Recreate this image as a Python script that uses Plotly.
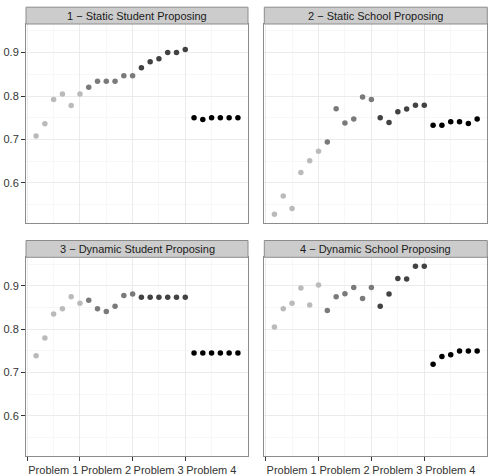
import plotly.graph_objects as go

periods = list(range(1, 25))
problems = ["Problem 1", "Problem 2", "Problem 3", "Problem 4"]
problem_colors = ["#bababa", "#7a7a7a", "#424242", "#000000"]
panel_titles = [
    "1 \u2212 Static Student Proposing",
    "2 \u2212 Static School Proposing",
    "3 \u2212 Dynamic Student Proposing",
    "4 \u2212 Dynamic School Proposing",
]

static_student = [0.708, 0.736, 0.792, 0.805, 0.778, 0.805,
                  0.820, 0.834, 0.834, 0.834, 0.847, 0.847,
                  0.865, 0.879, 0.886, 0.900, 0.900, 0.907,
                  0.750, 0.746, 0.750, 0.750, 0.750, 0.750]
static_school = [0.528, 0.570, 0.541, 0.624, 0.651, 0.673,
                 0.694, 0.771, 0.738, 0.747, 0.798, 0.792,
                 0.750, 0.739, 0.764, 0.770, 0.779, 0.779,
                 0.733, 0.733, 0.741, 0.741, 0.737, 0.747]
dynamic_student = [0.739, 0.780, 0.835, 0.847, 0.875, 0.860,
                   0.867, 0.847, 0.841, 0.853, 0.878, 0.881,
                   0.874, 0.874, 0.874, 0.874, 0.874, 0.874,
                   0.745, 0.745, 0.745, 0.745, 0.745, 0.745]
dynamic_school = [0.805, 0.847, 0.860, 0.895, 0.856, 0.902,
                  0.843, 0.875, 0.882, 0.896, 0.871, 0.896,
                  0.853, 0.881, 0.917, 0.916, 0.945, 0.945,
                  0.719, 0.737, 0.741, 0.750, 0.750, 0.750]
panel_values = [static_student, static_school, dynamic_student, dynamic_school]

x_ticks = [0, 6, 12, 18]
x_minor = [3, 9, 15, 21]
y_ticks = [0.6, 0.7, 0.8, 0.9]
y_minor = [0.55, 0.65, 0.75, 0.85, 0.95]

W, H = 490, 476
# panel pixel boxes (left, right, top, bottom)
cols_px = [(26.0, 248.0), (264.3, 487.3)]
rows_px = [(24.0, 223.3), (257.3, 456.2)]
strip_h = 16.8

allv = [v for vals in panel_values for v in vals]
lo, hi = min(allv), max(allv)
pad = 0.05 * (hi - lo)
y_range = [lo - pad, hi + pad]
x_pad = 0.05 * (max(periods) - min(periods))
x_range = [min(periods) - x_pad, max(periods) + x_pad]

fig = go.Figure()
shapes = []
annotations = []
layout_axes = {}

font_family = "Liberation Sans, Arial, sans-serif"

for i, vals in enumerate(panel_values):
    r, c = divmod(i, 2)
    k = i + 1
    xa = "x" if k == 1 else f"x{k}"
    ya = "y" if k == 1 else f"y{k}"
    for p in range(4):
        xs = periods[p * 6:(p + 1) * 6]
        ys = vals[p * 6:(p + 1) * 6]
        fig.add_trace(go.Scatter(
            x=xs, y=ys, mode="markers", xaxis=xa, yaxis=ya,
            marker=dict(color=problem_colors[p], size=5.5, line=dict(width=0)),
            name=problems[p], showlegend=False, hoverinfo="x+y"))
    l, rr = cols_px[c]
    t, b = rows_px[r]
    xdom = [l / W, rr / W]
    ydom = [(H - b) / H, (H - t) / H]
    bottom = r == 1
    left = c == 0
    layout_axes[f"xaxis{'' if k == 1 else k}"] = dict(
        domain=xdom, range=x_range, anchor=ya,
        tickvals=x_ticks, ticktext=problems if bottom else None,
        showticklabels=bottom, ticks="outside" if bottom else "",
        ticklen=3.5, tickcolor="#333333", tickwidth=1,
        ticklabelshift=26, tickangle=0,
        showgrid=True, gridcolor="#ebebeb", gridwidth=1,
        minor=dict(tickvals=x_minor, showgrid=True, gridcolor="#f7f7f7", gridwidth=1, ticks=""),
        showline=True, mirror=True, linecolor="#8c8c8c", linewidth=1,
        zeroline=False, automargin=False,
        tickfont=dict(family=font_family, size=11, color="#333333"),
    )
    layout_axes[f"yaxis{'' if k == 1 else k}"] = dict(
        domain=ydom, range=y_range, anchor=xa,
        tickvals=y_ticks, ticktext=[f"{v:.1f}" for v in y_ticks],
        showticklabels=left, ticks="outside" if left else "",
        ticklen=4, tickcolor="#333333", tickwidth=1,
        showgrid=True, gridcolor="#ebebeb", gridwidth=1,
        minor=dict(tickvals=y_minor, showgrid=True, gridcolor="#f7f7f7", gridwidth=1, ticks=""),
        showline=True, mirror=True, linecolor="#8c8c8c", linewidth=1,
        zeroline=False, automargin=False,
        tickfont=dict(family=font_family, size=11, color="#333333"),
    )
    # strip
    s_top = t - strip_h
    shapes.append(dict(
        type="rect", xref="paper", yref="paper",
        x0=l / W, x1=rr / W, y0=(H - t) / H, y1=(H - s_top) / H,
        fillcolor="#cccccc", line=dict(color="#8c8c8c", width=1), layer="above"))
    annotations.append(dict(
        text=panel_titles[i], xref="paper", yref="paper",
        x=(l + rr) / 2 / W, y=(H - (t - strip_h / 2)) / H,
        xanchor="center", yanchor="middle", showarrow=False,
        font=dict(family=font_family, size=11, color="#1a1a1a")))

fig.update_layout(
    width=W, height=H,
    margin=dict(l=0, r=0, t=0, b=0),
    paper_bgcolor="white", plot_bgcolor="white",
    template="none",
    shapes=shapes, annotations=annotations,
    showlegend=False,
    **layout_axes,
)

fig.write_html("out.html")
